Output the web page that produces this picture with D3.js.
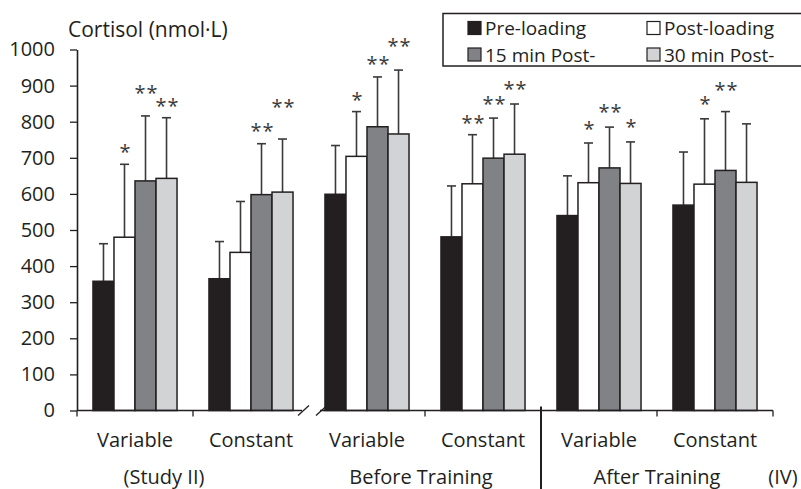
<!DOCTYPE html>
<html>
<head>
<meta charset="utf-8">
<script src="https://cdn.jsdelivr.net/npm/d3@7"></script>
<style>
  html, body { margin: 0; padding: 0; background: #fff; }
  svg { display: block; font-family: "Open Sans", sans-serif; }
</style>
</head>
<body>
<div id="chart"></div>
<script>
// Cortisol by condition, four sampling times
const groupIds = ["v2", "c2", "vb", "cb", "va", "ca"]
const groupLabels = ["Variable", "Constant", "Variable", "Constant", "Variable", "Constant"]
const series = ["Pre-loading", "Post-loading", "15 min Post-", "30 min Post-"]

const preLoading = [358, 365, 599, 481, 540, 569]
const postLoading = [480, 438, 704, 628, 631, 627]
const post15 = [636, 598, 786, 699, 672, 665]
const post30 = [643, 605, 766, 710, 629, 632]

const preSD = [104, 103, 135, 141, 110, 147]
const postSD = [202, 141, 124, 136, 110, 181]
const post15SD = [180, 141, 138, 111, 113, 163]
const post30SD = [168, 147, 177, 139, 115, 162]

const preStars = ["", "", "", "", "", ""]
const postStars = ["*", "", "*", "**", "*", "*"]
const post15Stars = ["**", "**", "**", "**", "**", "**"]
const post30Stars = ["**", "**", "**", "**", "*", ""]

// level (nmol/L) at which the asterisks sit
const preStarAt = [0, 0, 0, 0, 0, 0]
const postStarAt = [727, 0, 871, 807, 791, 860]
const post15StarAt = [890, 786, 971, 860, 837, 899]
const post30StarAt = [855, 853, 1022, 902, 797, 0]

const yTicks = [0, 100, 200, 300, 400, 500, 600, 700, 800, 900, 1000]

const means = [preLoading, postLoading, post15, post30]
const sds = [preSD, postSD, post15SD, post30SD]
const stars = [preStars, postStars, post15Stars, post30Stars]
const starAt = [preStarAt, postStarAt, post15StarAt, post30StarAt]
const fills = ["#231f20", "#ffffff", "#808285", "#d1d3d4"]
const ink = "#231f20"

const W = 801, H = 489
const svg = d3.select("#chart").append("svg")
  .attr("width", W).attr("height", H)

const y = d3.scaleLinear().domain([0, 1000]).range([410.5, 49.5])
const x0 = d3.scaleBand().domain(groupIds).range([77, 773])
const x1 = d3.scaleBand().domain(series).range([0, x0.bandwidth()]).paddingOuter(0.76)

// flat records
const bars = []
groupIds.forEach((g, gi) => {
  series.forEach((s, si) => {
    bars.push({
      g, s, si,
      value: means[si][gi],
      sd: sds[si][gi],
      star: stars[si][gi],
      starAt: starAt[si][gi]
    })
  })
})

const cx = d => x0(d.g) + x1(d.s) + x1.bandwidth() / 2

// Error bars (upper only)
const err = svg.append("g").attr("class", "errors")
  .attr("stroke", "#3a3a3a").attr("stroke-width", 1.6)
err.selectAll("line.stem").data(bars).join("line")
  .attr("class", "stem")
  .attr("x1", cx).attr("x2", cx)
  .attr("y1", d => y(d.value))
  .attr("y2", d => y(d.value + d.sd))
err.selectAll("line.cap").data(bars).join("line")
  .attr("class", "cap")
  .attr("x1", d => cx(d) - 4.5)
  .attr("x2", d => cx(d) + 4.5)
  .attr("y1", d => y(d.value + d.sd))
  .attr("y2", d => y(d.value + d.sd))

// Bars
svg.append("g").attr("class", "bars")
  .selectAll("rect").data(bars).join("rect")
  .attr("x", d => x0(d.g) + x1(d.s))
  .attr("width", x1.bandwidth())
  .attr("y", d => y(d.value))
  .attr("height", d => y(0) - y(d.value))
  .attr("fill", d => fills[d.si])
  .attr("stroke", ink)
  .attr("stroke-width", 1.5)

// Asterisks
svg.append("g").attr("class", "stars")
  .selectAll("text").data(bars.filter(d => d.star)).join("text")
  .attr("x", d => cx(d) + 1)
  .attr("y", d => y(d.starAt) + 11)
  .attr("text-anchor", "middle")
  .attr("font-size", 20)
  .attr("letter-spacing", 1)
  .attr("fill", "#3a3a3a")
  .text(d => d.star)

// Y axis
const yAxis = svg.append("g")
  .attr("transform", "translate(77,0)")
  .call(d3.axisLeft(y).tickValues(yTicks).tickFormat(d3.format("d"))
    .tickSize(7).tickSizeOuter(0).tickPadding(15))
yAxis.select(".domain").attr("stroke", ink).attr("stroke-width", 1.6)
yAxis.selectAll(".tick line").attr("stroke", ink).attr("stroke-width", 1.3)
yAxis.selectAll(".tick text")
  .attr("fill", ink).attr("font-size", 20)
  .attr("font-family", "Open Sans, sans-serif")

svg.append("text")
  .attr("x", 68).attr("y", 37)
  .attr("font-size", 21).attr("fill", ink)
  .text("Cortisol (nmol·L)")

// X axis line with a break between the two studies
const y0 = y(0)
const breakX = [302, 320]
const xAxis = svg.append("g").attr("stroke", ink).attr("stroke-width", 1.6)
xAxis.append("line").attr("x1", 77).attr("x2", breakX[0]).attr("y1", y0).attr("y2", y0)
xAxis.append("line").attr("x1", breakX[1]).attr("x2", 773).attr("y1", y0).attr("y2", y0)
xAxis.selectAll("line.brk").data(breakX).join("line")
  .attr("class", "brk")
  .attr("x1", d => d - 4).attr("x2", d => d + 7)
  .attr("y1", y0 + 5).attr("y2", y0 - 5)
  .attr("stroke-width", 1.3)

// category boundary ticks (the one inside the break is hidden)
const bounds = [77].concat(groupIds.map(g => x0(g) + x0.bandwidth()))
xAxis.selectAll("line.tk").data(bounds.filter(b => b < breakX[0] || b > breakX[1])).join("line")
  .attr("class", "tk")
  .attr("x1", d => d).attr("x2", d => d)
  .attr("y1", y0).attr("y2", y0 + 6)
  .attr("stroke-width", 1.3)

// separator between before/after training
const sep = x0("cb") + x0.bandwidth()
svg.append("line")
  .attr("x1", sep).attr("x2", sep)
  .attr("y1", y0 - 4).attr("y2", H)
  .attr("stroke", ink).attr("stroke-width", 2)

// category labels
svg.append("g").selectAll("text").data(groupIds).join("text")
  .attr("x", g => x0(g) + x0.bandwidth() / 2)
  .attr("y", 447)
  .attr("text-anchor", "middle")
  .attr("font-size", 20).attr("fill", ink)
  .text((g, i) => groupLabels[i])

const lower = [
  { text: "(Study II)", x: x0("v2") + x0.bandwidth() / 2 + 29 },
  { text: "Before Training", x: x0("cb") - 4 },
  { text: "After Training", x: x0("ca") },
  { text: "(IV)", x: 783 }
]
svg.append("g").selectAll("text").data(lower).join("text")
  .attr("x", d => d.x)
  .attr("y", 484)
  .attr("text-anchor", "middle")
  .attr("font-size", 20).attr("fill", ink)
  .text(d => d.text)

// Legend
const legend = svg.append("g").attr("class", "legend")
legend.append("rect")
  .attr("x", 443).attr("y", 13.5)
  .attr("width", 370).attr("height", 52.5)
  .attr("fill", "#fff").attr("stroke", ink).attr("stroke-width", 1.5)

const legendPos = [[468, 28], [647, 28], [468, 54.5], [647, 54.5]]
const items = legend.selectAll("g.item").data(series).join("g")
  .attr("class", "item")
  .attr("transform", (s, i) => `translate(${legendPos[i][0]},${legendPos[i][1]})`)
items.append("rect")
  .attr("x", 0).attr("y", -6.5).attr("width", 13).attr("height", 13)
  .attr("fill", (s, i) => fills[i]).attr("stroke", ink).attr("stroke-width", 1.2)
items.append("text")
  .attr("x", 17).attr("y", 7)
  .attr("font-size", 19).attr("fill", ink)
  .text(s => s)
</script>
</body>
</html>
